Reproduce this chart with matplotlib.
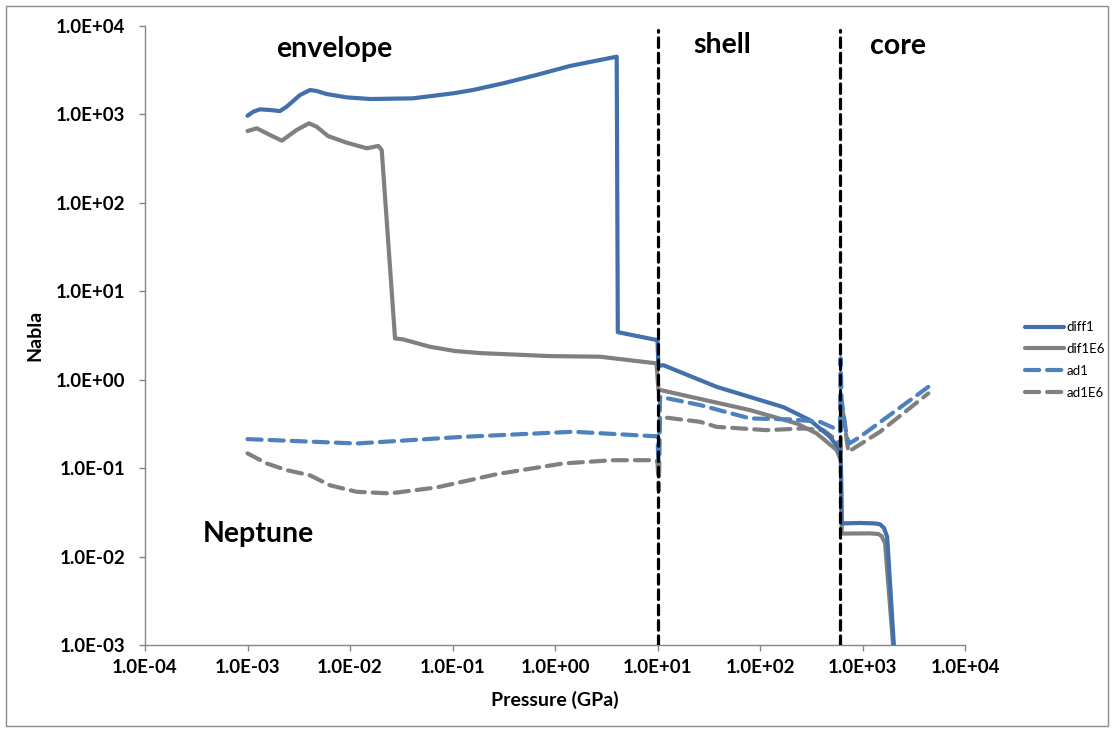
import matplotlib
matplotlib.use("Agg")
import matplotlib.pyplot as plt
from matplotlib.patches import Rectangle
from matplotlib.ticker import FixedLocator, FixedFormatter, NullLocator

# ---------------- data ----------------
diff1_P = [1.0e-3, 1.14e-3, 1.32e-3, 1.66e-3, 2.07e-3, 2.41e-3, 3.25e-3, 4.07e-3, 4.73e-3, 5.9e-3,
           9.29e-3, 0.0157, 0.041, 0.102, 0.158, 0.313, 0.66, 1.40, 4.0,
           4.1, 10.0, 10.2, 11.4, 37.8, 169, 307, 482, 603, 615,
           627, 946, 1324, 1483, 1622, 1740, 2028]
diff1_N = [966, 1074, 1142, 1122, 1092, 1223, 1656, 1888, 1841, 1702,
           1560, 1494, 1520, 1734, 1888, 2249, 2794, 3532, 4500,
           3.45, 2.8, 1.43, 1.46, 0.83, 0.49, 0.349, 0.226, 0.16, 0.125,
           0.0237, 0.0240, 0.0237, 0.0232, 0.021, 0.0167, 0.00095]

dif1E6_P = [1.0e-3, 1.23e-3, 1.66e-3, 2.16e-3, 3.02e-3, 3.98e-3, 4.73e-3, 6.1e-3, 9.29e-3, 0.0146,
            0.0189, 0.0204, 0.0275, 0.0329, 0.060, 0.106, 0.186, 0.89, 2.75, 9.8,
            10.2, 10.9, 80, 228, 357, 560, 615, 627, 1183, 1427, 1540, 1660, 1995]
dif1E6_N = [649, 697, 585, 505, 667, 793, 726, 570, 479, 414,
            440, 395, 2.93, 2.86, 2.36, 2.11, 2.0, 1.85, 1.82, 1.53,
            0.77, 0.76, 0.453, 0.32, 0.247, 0.16, 0.123, 0.0182, 0.0183, 0.0180, 0.0170, 0.0141, 0.00095]

ad1_P = [1.0e-3, 0.0116, 0.127, 1.51, 9.1, 10.0, 10.2, 10.6, 26, 80,
         195, 385, 540, 603, 612, 625, 700, 743, 946, 4385]
ad1_N = [0.213, 0.19, 0.226, 0.258, 0.230, 0.23, 0.12, 0.64, 0.517, 0.365,
         0.356, 0.334, 0.28, 0.26, 1.75, 0.6, 0.23, 0.19, 0.226, 0.83]

ad1E6_P = [1.0e-3, 1.54e-3, 2.41e-3, 4.07e-3, 6.38e-3, 0.0116, 0.0245, 0.070, 0.27, 1.2,
           3.7, 9.1, 10.0, 10.3, 10.6, 26, 37.8, 116, 264, 415,
           560, 603, 612, 620, 728, 1483, 4385]
ad1E6_N = [0.147, 0.113, 0.095, 0.083, 0.064, 0.054, 0.0518, 0.0605, 0.0855, 0.113,
           0.123, 0.123, 0.12, 0.056, 0.38, 0.334, 0.293, 0.269, 0.281, 0.269,
           0.207, 0.18, 0.13, 0.6, 0.153, 0.258, 0.70]

boundaries = [10.0, 610.0]

x_ticks = [1e-4, 1e-3, 1e-2, 1e-1, 1e0, 1e1, 1e2, 1e3, 1e4]
x_labels = ["1.0E-04", "1.0E-03", "1.0E-02", "1.0E-01", "1.0E+00",
            "1.0E+01", "1.0E+02", "1.0E+03", "1.0E+04"]
y_ticks = [1e-3, 1e-2, 1e-1, 1e0, 1e1, 1e2, 1e3, 1e4]
y_labels = ["1.0E-03", "1.0E-02", "1.0E-01", "1.0E+00",
            "1.0E+01", "1.0E+02", "1.0E+03", "1.0E+04"]

series_labels = ["diff1", "dif1E6", "ad1", "ad1E6"]

# ---------------- figure ----------------
plt.rcParams['font.family'] = ['Lato', 'DejaVu Sans']
W, H = 1114, 732
fig = plt.figure(figsize=(W / 100, H / 100), dpi=100)
fig.patches.append(Rectangle((6 / W, 6 / H), 1 - 12 / W, 1 - 12 / H,
                             transform=fig.transFigure, fill=False,
                             edgecolor='#8c8c8c', linewidth=1.0))

ax = fig.add_axes([145 / W, 1 - 645 / H, 820 / W, 619 / H])
ax.set_xscale('log')
ax.set_yscale('log')
ax.set_xlim(1e-4, 1e4)
ax.set_ylim(1e-3, 1e4)

blue_s = '#4370ab'
blue_d = '#4f81bd'
gray = '#808080'
lw = 3.0
dash = (3.4, 1.9)

ax.plot(diff1_P, diff1_N, color=blue_s, lw=lw, solid_capstyle='round',
        solid_joinstyle='round', label=series_labels[0], zorder=3)
ax.plot(dif1E6_P, dif1E6_N, color=gray, lw=lw, solid_capstyle='round',
        solid_joinstyle='round', label=series_labels[1], zorder=2)
ax.plot(ad1_P, ad1_N, color=blue_d, lw=lw, dashes=dash, dash_capstyle='round',
        label=series_labels[2], zorder=3)
ax.plot(ad1E6_P, ad1E6_N, color=gray, lw=lw, dashes=dash, dash_capstyle='round',
        label=series_labels[3], zorder=2)

for b in boundaries:
    ax.axvline(b, ymin=0, ymax=0.993, color='black', lw=2.3,
               dashes=(3.0, 1.8), dash_capstyle='round', zorder=5)

for s in ['top', 'right']:
    ax.spines[s].set_visible(False)
for s in ['left', 'bottom']:
    ax.spines[s].set_color('#868686')
    ax.spines[s].set_linewidth(1.0)

ax.xaxis.set_major_locator(FixedLocator(x_ticks))
ax.xaxis.set_major_formatter(FixedFormatter(x_labels))
ax.yaxis.set_major_locator(FixedLocator(y_ticks))
ax.yaxis.set_major_formatter(FixedFormatter(y_labels))
ax.xaxis.set_minor_locator(NullLocator())
ax.yaxis.set_minor_locator(NullLocator())
ax.tick_params(axis='both', which='major', direction='out', length=4,
               color='#868686', width=1.0, labelsize=13.5)
ax.tick_params(axis='y', pad=10)
ax.tick_params(axis='x', pad=6)
for t in ax.get_xticklabels() + ax.get_yticklabels():
    t.set_fontweight('bold')

ax.set_xlabel("Pressure (GPa)", fontsize=14, fontweight='bold', labelpad=11)
ax.set_ylabel("Nabla", fontsize=14, fontweight='bold', labelpad=9)

txt_kw = dict(fontsize=20.5, fontweight='bold', ha='center', va='center',
              transform=fig.transFigure)
fig.text(334 / W, 1 - 49 / H, "envelope", **txt_kw)
fig.text(722 / W, 1 - 45 / H, "shell", **txt_kw)
fig.text(898 / W, 1 - 46 / H, "core", **txt_kw)
fig.text(258 / W, 1 - 534 / H, "Neptune", **txt_kw)

fig.legend(loc='center left', bbox_to_anchor=(1018 / W, 1 - 360 / H),
           frameon=False, fontsize=9.5, handlelength=3.0, handletextpad=0.2,
           labelspacing=0.75, borderpad=0)

fig.savefig("out.png", dpi=100)
